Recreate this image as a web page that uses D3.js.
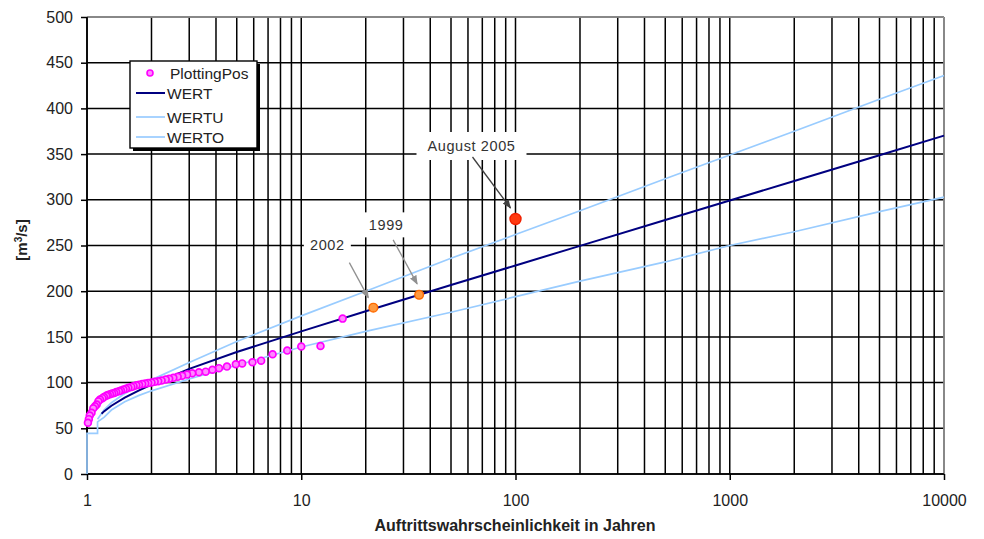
<!DOCTYPE html>
<html>
<head>
<meta charset="utf-8">
<script src="https://cdn.jsdelivr.net/npm/d3@7"></script>
<style>
  html, body { margin: 0; padding: 0; background: #fff; }
  svg { display: block; }
  text { font-family: "Liberation Sans", Arial, sans-serif; }
</style>
</head>
<body>
<svg id="chart" width="984" height="539"></svg>
<script>
// ---------------- data ----------------
const xTickLabels = [1, 10, 100, 1000, 10000];
const yTickLabels = [0, 50, 100, 150, 200, 250, 300, 350, 400, 450, 500];

// Plotting positions (return period in years, discharge m3/s)
const ppReturnPeriod = [100, 35.5, 21.7, 15.6, 12.3, 10.0, 8.6, 7.35, 6.5, 5.92, 5.3, 4.95, 4.5, 4.13, 3.85, 3.58, 3.33, 3.1,
  2.93, 2.78, 2.65, 2.53, 2.42, 2.33, 2.23, 2.15, 2.07, 2.0, 1.93, 1.87, 1.81, 1.75, 1.70, 1.65, 1.61, 1.56, 1.52, 1.48,
  1.44, 1.41, 1.37, 1.34, 1.31, 1.28, 1.25, 1.23, 1.20, 1.18, 1.15, 1.13, 1.11, 1.09, 1.07, 1.05, 1.03, 1.02, 1.01];
const ppDischarge = [279, 196, 182, 170, 140, 139.5, 135, 131, 124, 122.3, 121, 120, 117.5, 115.8, 114, 112, 111.4, 110.3,
  108.8, 107.5, 106.3, 105.2, 104.2, 103.3, 102.3, 101.5, 100.8, 100.1, 99.5, 99, 98.4, 97.7, 97, 96.1, 95.3, 94.3, 93.3, 92.4,
  91.4, 90.5, 89.6, 88.7, 88, 87.2, 86.4, 85.5, 84.3, 83, 81.5, 79.5, 76, 74, 72, 67, 64, 60, 56];

// Highlighted events (index into plotting positions)
const eventLabels = ["August 2005", "1999", "2002"];
const eventIndex = [0, 1, 2];

// WERT (fitted)
const wertT = [1.17, 1.2, 1.3, 1.5, 1.75, 2, 3, 5, 10, 20, 50, 100, 200, 500, 1000, 2000, 5000, 10000];
const wertQ = [66, 68.5, 74.7, 83.6, 91.6, 97.8, 115, 133.5, 156, 178, 206.7, 228.2, 249.6, 277.9, 299.2, 320.6, 348.8, 370.2];
// WERTU (lower bound)
const wertuT = [1, 1, 1.12, 1.12, 1.2, 1.3, 1.5, 1.75, 2, 3, 5, 10, 20, 50, 100, 200, 500, 1000, 2000, 5000, 10000];
const wertuQ = [0, 44.5, 44.5, 57, 62, 70, 79, 86, 91, 104, 119, 139, 156, 177, 194, 211, 232, 250, 265, 287, 303];
// WERTO (upper bound)
const wertoT = [1.12, 1.2, 1.3, 1.5, 1.75, 2, 3, 5, 10, 20, 50, 100, 200, 500, 1000, 2000, 5000, 10000];
const wertoQ = [60, 70, 78, 88, 96, 103, 122, 145, 173, 200, 236, 262, 288, 323, 349, 375, 410, 436];

const seriesNames = ["PlottingPos", "WERT", "WERTU", "WERTO"];
const xTitle = "Auftrittswahrscheinlichkeit in Jahren";

// ---------------- layout ----------------
const svg = d3.select("#chart");
const L = 87, R = 944, T = 17, B = 474;
const x = d3.scaleLog().domain([1, 10000]).range([L, R]);
const y = d3.scaleLinear().domain([0, 500]).range([B, T]);

const C_WERT = "#000080", C_BAND = "#99ccff", C_PP = "#ff00ff";

// grid
const grid = svg.append("g");
grid.selectAll("line.v").data(x.ticks()).join("line")
  .attr("x1", d => x(d)).attr("x2", d => x(d)).attr("y1", T).attr("y2", B)
  .attr("stroke", "#000").attr("stroke-width", 1.5);
grid.selectAll("line.h").data(yTickLabels).join("line")
  .attr("x1", L).attr("x2", R).attr("y1", d => y(d)).attr("y2", d => y(d))
  .attr("stroke", "#000").attr("stroke-width", 1.5);
// border: top & right grey
svg.append("line").attr("x1", L).attr("x2", R).attr("y1", T).attr("y2", T).attr("stroke", "#a0a0a0").attr("stroke-width", 1.5);
svg.append("line").attr("x1", R).attr("x2", R).attr("y1", T).attr("y2", B).attr("stroke", "#a0a0a0").attr("stroke-width", 1.5);

// axes
const yAxis = d3.axisLeft(y).tickValues(yTickLabels).tickSize(6).tickPadding(8).tickFormat(d3.format("d"));
const gy = svg.append("g").attr("transform", `translate(${L},0)`).call(yAxis);
const xAxis = d3.axisBottom(x).tickValues(xTickLabels).tickSize(6).tickPadding(15).tickFormat(d3.format("d"));
const gx = svg.append("g").attr("transform", `translate(0,${B})`).call(xAxis);
[gx, gy].forEach(g => {
  g.select(".domain").attr("stroke", "#000").attr("stroke-width", 1.6);
  g.selectAll(".tick line").attr("stroke", "#000").attr("stroke-width", 1.5);
  g.selectAll(".tick text").attr("fill", "#222").style("font-size", "16px")
    .style("font-family", "'Liberation Sans', Arial, sans-serif");
});
gy.select(".domain").attr("d", `M0,${T}V${B}`);
gx.select(".domain").attr("d", `M${L},0H${R}`);

// axis titles
svg.append("text").attr("x", 515).attr("y", 531).attr("text-anchor", "middle")
  .style("font-size", "16px").style("font-weight", "bold").attr("fill", "#222").text(xTitle);
const yt = svg.append("text").attr("transform", "translate(27,240) rotate(-90)").attr("text-anchor", "middle")
  .style("font-size", "15px").style("font-weight", "bold").attr("fill", "#222");
yt.append("tspan").text("[m");
yt.append("tspan").attr("baseline-shift", "super").style("font-size", "10px").text("3");
yt.append("tspan").text("/s]");

// annotation label boxes (white, hide grid)
const annot = [
  {dx: -44, dy: -73, w: 110, h: 28, a0: [-43, -62], a1: [-5, -11], col: "#404040"},
  {dx: -33, dy: -70, w: 48, h: 25, a0: [-26, -55], a1: [-2, -11], col: "#909090"},
  {dx: -46, dy: -63, w: 47, h: 22, a0: [-24, -45], a1: [-5, -10], col: "#909090"}
];
const ev = eventIndex.map((idx, k) => ({
  label: eventLabels[k], px: x(ppReturnPeriod[idx]), py: y(ppDischarge[idx]), ...annot[k]
}));
svg.selectAll("rect.ab").data(ev).join("rect")
  .attr("x", d => d.px + d.dx - d.w / 2).attr("y", d => d.py + d.dy - d.h / 2)
  .attr("width", d => d.w).attr("height", d => d.h).attr("fill", "#fff");

// lines
const line = d3.line().x(d => x(d[0])).y(d => y(d[1]));
svg.append("path").datum(d3.zip(wertuT, wertuQ)).attr("d", line)
  .attr("fill", "none").attr("stroke", C_BAND).attr("stroke-width", 1.7);
svg.append("path").datum(d3.zip(wertoT, wertoQ)).attr("d", line)
  .attr("fill", "none").attr("stroke", C_BAND).attr("stroke-width", 1.7);
svg.append("path").datum(d3.zip(wertT, wertQ)).attr("d", line)
  .attr("fill", "none").attr("stroke", C_WERT).attr("stroke-width", 2);

// plotting positions
const pp = d3.zip(ppReturnPeriod, ppDischarge).map((d, i) => ({t: d[0], q: d[1], i}));
svg.selectAll("circle.pp").data(pp.filter(d => !eventIndex.includes(d.i))).join("circle")
  .attr("cx", d => x(d.t)).attr("cy", d => y(d.q)).attr("r", 3.4)
  .attr("fill", "#ff88ff").attr("stroke", C_PP).attr("stroke-width", 1.7);
svg.selectAll("circle.ev").data(pp.filter(d => eventIndex.includes(d.i))).join("circle")
  .attr("cx", d => x(d.t)).attr("cy", d => y(d.q))
  .attr("r", d => d.i === 0 ? 5.5 : 4.3)
  .attr("fill", d => d.i === 0 ? "#ff3a10" : "#ff9a40")
  .attr("stroke", d => d.i === 0 ? "#f02000" : "#ff6a00").attr("stroke-width", 1.4);

// arrows
const defs = svg.append("defs");
["#404040", "#909090"].forEach((c, k) => {
  defs.append("marker").attr("id", "arr" + k).attr("viewBox", "0 0 10 10").attr("refX", 9).attr("refY", 5)
    .attr("markerWidth", 7).attr("markerHeight", 7).attr("orient", "auto")
    .append("path").attr("d", "M0,1L10,5L0,9z").attr("fill", c);
});
svg.selectAll("line.arrow").data(ev).join("line")
  .attr("x1", d => d.px + d.a0[0]).attr("y1", d => d.py + d.a0[1])
  .attr("x2", d => d.px + d.a1[0]).attr("y2", d => d.py + d.a1[1])
  .attr("stroke", d => d.col).attr("stroke-width", 1.3)
  .attr("marker-end", d => d.col === "#404040" ? "url(#arr0)" : "url(#arr1)");
svg.selectAll("text.ev").data(ev).join("text")
  .attr("x", d => d.px + d.dx).attr("y", d => d.py + d.dy + 5)
  .attr("text-anchor", "middle").attr("fill", "#333").style("font-size", "14.5px")
  .style("letter-spacing", "0.6px").text(d => d.label);

// legend
const lg = svg.append("g");
lg.append("rect").attr("x", 133).attr("y", 64).attr("width", 127).attr("height", 87).attr("fill", "#000");
lg.append("rect").attr("x", 130).attr("y", 61).attr("width", 127).attr("height", 87)
  .attr("fill", "#fff").attr("stroke", "#000").attr("stroke-width", 1.4);
const legY = [73, 93, 117, 137];
lg.append("circle").attr("cx", 150).attr("cy", legY[0]).attr("r", 3)
  .attr("fill", "#ff88ff").attr("stroke", C_PP).attr("stroke-width", 1.6);
[[C_WERT, 2], [C_BAND, 1.7], [C_BAND, 1.7]].forEach((s, k) => {
  lg.append("line").attr("x1", 136).attr("x2", 165).attr("y1", legY[k + 1]).attr("y2", legY[k + 1])
    .attr("stroke", s[0]).attr("stroke-width", s[1]);
});
lg.selectAll("text").data(seriesNames).join("text")
  .attr("x", (d, i) => i === 0 ? 170 : 167).attr("y", (d, i) => legY[i] + 5.5)
  .attr("fill", "#222").style("font-size", "15.5px").text(d => d);
</script>
</body>
</html>
